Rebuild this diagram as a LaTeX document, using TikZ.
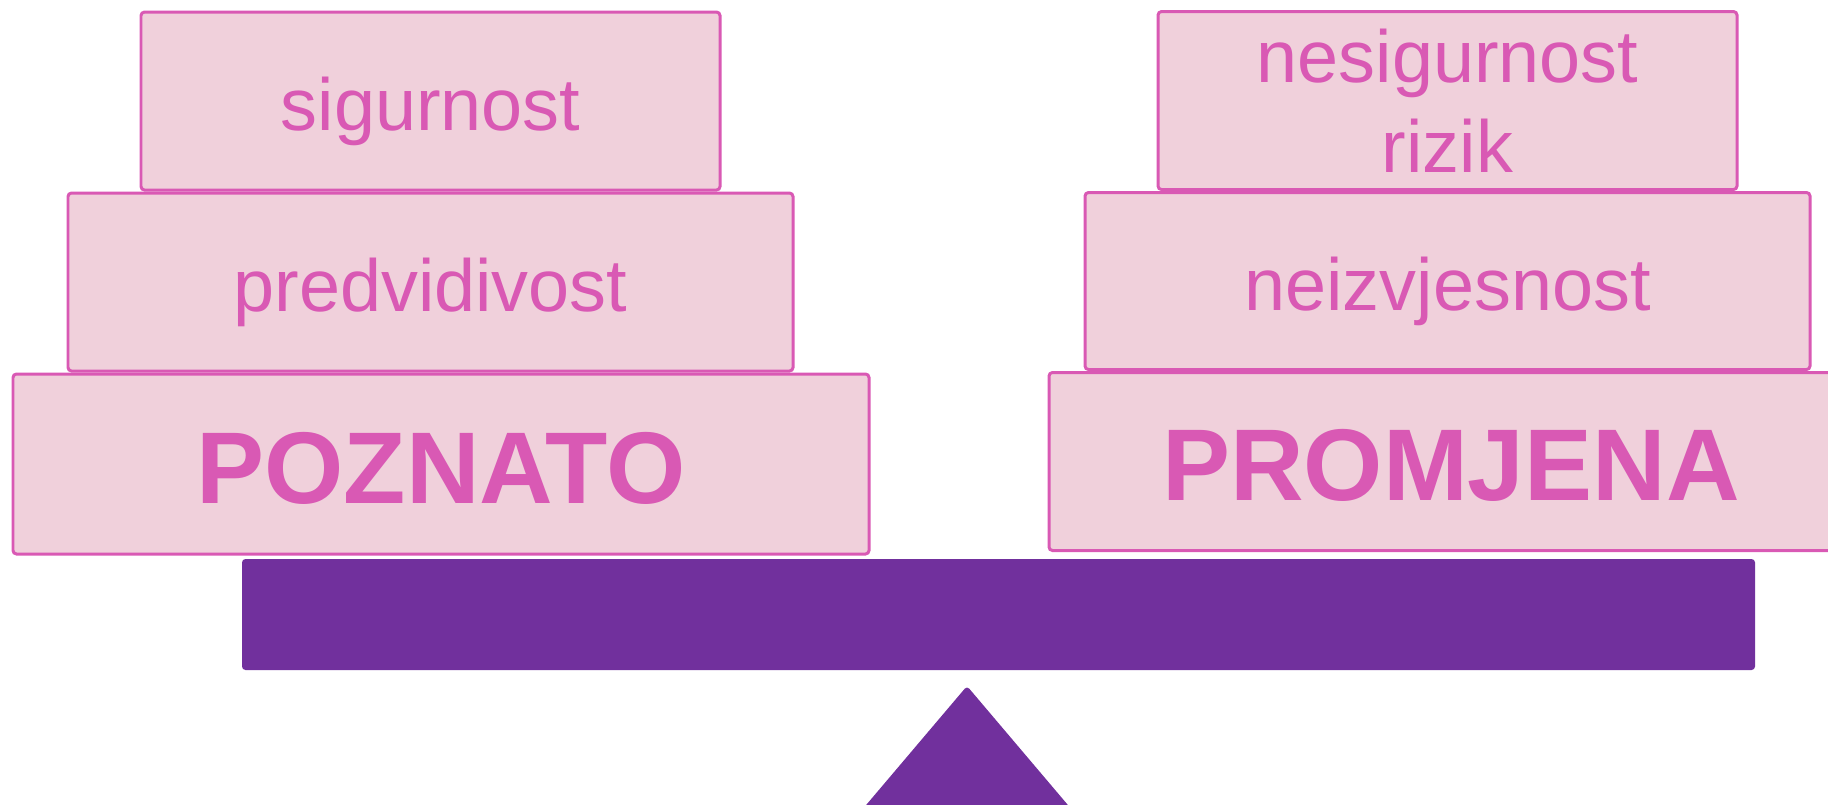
\documentclass[tikz,border=0pt]{standalone}
\usepackage{fontspec}
\setmainfont{Liberation Sans}
\usetikzlibrary{positioning}

\definecolor{pinkline}{RGB}{217,89,180}
\definecolor{pinkfill}{RGB}{240,208,219}
\definecolor{beam}{RGB}{113,48,157}

\begin{document}
\begin{tikzpicture}[node distance=0pt,
	line width=0.85pt]
	\tikzstyle{block}=[draw=pinkline,fill=pinkfill,text=pinkline,rounded corners=1pt,minimum height=1.78cm,inner sep=0pt,font=\fontsize{21}{25.6}\selectfont]
	\tikzstyle{small}=[block,text height=0.7cm,text depth=0.12cm]
	\tikzstyle{big}=[block,text height=0.9cm,text depth=0.12cm,font=\fontsize{29}{34}\selectfont\bfseries]

	\useasboundingbox (0,0) rectangle (18.28,8.04);
	\clip (0,0) rectangle (18.28,8.04);

	% left side
	\node[big,minimum width=8.56cm,minimum height=1.80cm] (poznato) at (4.41,3.40) {POZNATO};
	\node[small,minimum width=7.25cm] (predvid) [above=of poznato,xshift=-0.105cm] {predvidivost};
	\node[small,minimum width=5.79cm] (sigur) [above=of predvid] {sigurnost};

	% right side
	\node[big,minimum width=8.04cm] (promjena) at (14.51,3.425) {PROMJENA};
	\node[small,minimum width=7.25cm,minimum height=1.77cm] (neizvj) [above=of promjena,xshift=-0.035cm] {neizvjesnost};
	\node[block,minimum width=5.79cm,align=center] (nesigur) [above=of neizvj] {nesigurnost\\rizik};

	% beam and pivot
	\fill[beam,rounded corners=1pt] (2.42,1.34) rectangle (17.55,2.45);
	\fill[beam,rounded corners=1pt] (9.67,1.18) -- (10.806,-0.16) -- (8.534,-0.16) -- cycle;
\end{tikzpicture}
\end{document}
